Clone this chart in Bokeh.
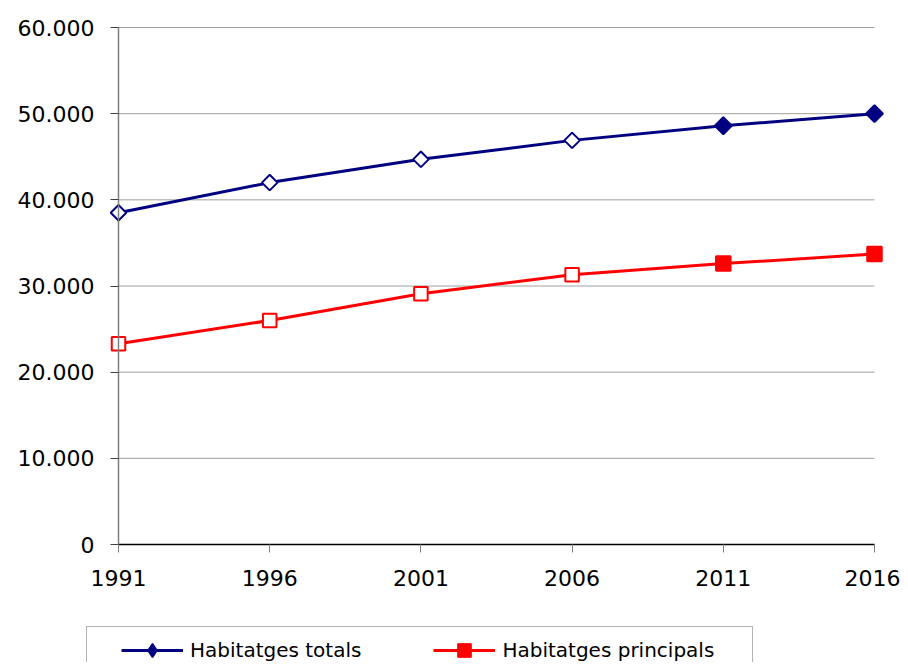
import math
from bokeh.plotting import figure
from bokeh.models import (ColumnDataSource, Range1d, FixedTicker, Legend,
                          LegendItem, BoxAnnotation, CDSView, IndexFilter)
from bokeh.embed import file_html
from bokeh.resources import INLINE

# ---- data ----
years = [1991, 1996, 2001, 2006, 2011, 2016]
habitatges_totals = [38500, 42000, 44700, 46900, 48600, 50000]
habitatges_principals = [23300, 26000, 29100, 31300, 32600, 33700]
marker_filled = [False, False, False, False, True, True]
series_names = ["Habitatges totals", "Habitatges principals"]
y_ticks = [0, 10000, 20000, 30000, 40000, 50000, 60000]
y_tick_labels = ["0", "10.000", "20.000", "30.000", "40.000", "50.000", "60.000"]

NAVY = "#000080"
RED = "#FF0000"
FONT = "DejaVu Sans"

# ---- layout (pixels) ----
W, H = 900, 662
PLOT_L, PLOT_R, PLOT_T, PLOT_B = 118, 874, 27, 544

# the frame covers the whole canvas so the legend below the plot is not clipped;
# the plotting area is placed through the ranges and fixed-location axes
xs = (years[-1] - years[0]) / (PLOT_R - PLOT_L)
ys = (y_ticks[-1] - y_ticks[0]) / (PLOT_B - PLOT_T)
x_range = Range1d(years[0] - PLOT_L * xs, years[-1] + (W - PLOT_R) * xs)
y_range = Range1d(y_ticks[0] - (H - PLOT_B) * ys, y_ticks[-1] + PLOT_T * ys)

p = figure(width=W, height=H, output_backend="svg", toolbar_location=None,
           x_range=x_range, y_range=y_range,
           min_border_left=0, min_border_right=0, min_border_top=0,
           min_border_bottom=0)
p.outline_line_color = None
p.background_fill_color = "white"
p.xgrid.visible = False
p.ygrid.visible = False

# axes
p.xaxis.ticker = FixedTicker(ticks=years)
p.yaxis.ticker = FixedTicker(ticks=y_ticks)
p.yaxis.major_label_overrides = {t: l for t, l in zip(y_ticks, y_tick_labels)}
p.xaxis.fixed_location = y_ticks[0]
p.yaxis.fixed_location = years[0]
p.xaxis.bounds = (years[0], years[-1])
p.yaxis.bounds = (y_ticks[0], y_ticks[-1])
for ax in (p.xaxis[0], p.yaxis[0]):
    ax.major_label_text_font = FONT
    ax.major_label_text_font_size = "22px"
    ax.major_label_text_color = "#000000"
    ax.minor_tick_line_color = None
    ax.major_tick_in = 0
    ax.major_tick_out = 8
p.yaxis.axis_line_color = "#7f7f7f"
p.yaxis.axis_line_width = 1.5
p.yaxis.major_tick_line_color = "#404040"
p.yaxis.major_label_standoff = 16
p.xaxis.axis_line_color = "#000000"
p.xaxis.axis_line_width = 1.5
p.xaxis.major_tick_line_color = "#808080"
p.xaxis.major_label_standoff = 17

# horizontal grid lines across the plotting area
p.segment(x0=years[0], x1=years[-1], y0=y_ticks[1:], y1=y_ticks[1:],
          line_color="#a0a0a0", line_width=1)

# series
tot_src = ColumnDataSource(dict(
    x=years, y=habitatges_totals,
    fill=[NAVY if f else "white" for f in marker_filled],
    size=[12 if f else 11 for f in marker_filled]))
pri_src = ColumnDataSource(dict(
    x=years, y=habitatges_principals,
    fill=[RED if f else "white" for f in marker_filled],
    size=[14.5 if f else 13.5 for f in marker_filled]))
filled_view = CDSView(filter=IndexFilter([i for i, f in enumerate(marker_filled) if f]))

l1 = p.line("x", "y", source=tot_src, line_color=NAVY, line_width=3)
l2 = p.line("x", "y", source=pri_src, line_color=RED, line_width=3)

# legend symbols: small filled markers hidden under the filled plot markers
m1 = p.scatter("x", "y", source=tot_src, view=filled_view, marker="diamond",
               size=9, fill_color=NAVY, line_color=NAVY, line_width=1.5)
m2 = p.scatter("x", "y", source=pri_src, view=filled_view, marker="square",
               size=9, fill_color=RED, line_color=RED, line_width=1)

s1 = p.scatter("x", "y", source=tot_src, marker="square", angle=math.pi / 4,
               size="size", fill_color="fill", line_color=NAVY, line_width=2)
s2 = p.scatter("x", "y", source=pri_src, marker="square",
               size="size", fill_color="fill", line_color=RED, line_width=2)

# legend box (bottom edge falls outside the picture, as in the original)
box = BoxAnnotation(left=86, right=752, top=626, bottom=720,
                    left_units="canvas", right_units="canvas",
                    top_units="canvas", bottom_units="canvas",
                    fill_color="white", fill_alpha=1,
                    line_color="#000000", line_width=1)
p.add_layout(box)

legend = Legend(items=[LegendItem(label=series_names[0], renderers=[l1, m1]),
                       LegendItem(label=series_names[1], renderers=[l2, m2])],
                orientation="horizontal", location=(114, -12), padding=7,
                spacing=72, glyph_width=62, glyph_height=34, label_height=34,
                label_standoff=7,
                label_text_font=FONT, label_text_font_size="20px",
                label_text_color="#000000",
                border_line_alpha=0, background_fill_alpha=0, margin=0)
p.add_layout(legend)

open("out.html", "w").write(file_html(p, INLINE))
